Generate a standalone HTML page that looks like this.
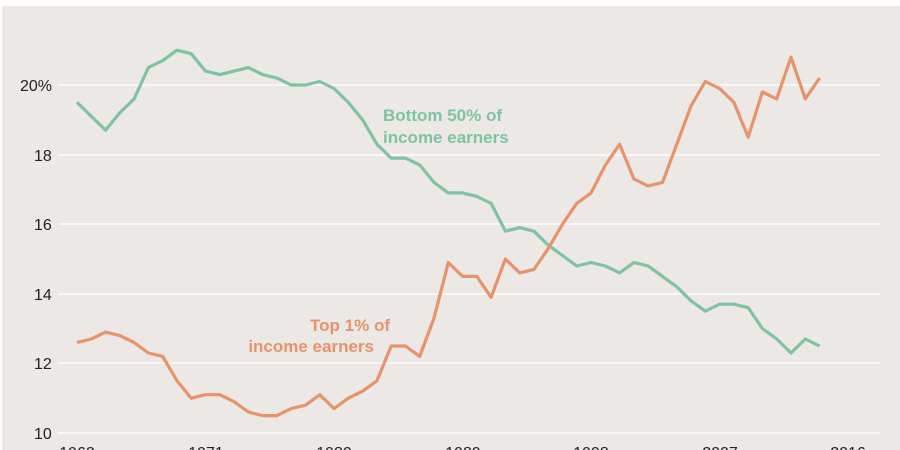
<!DOCTYPE html>
<html><head><meta charset="utf-8"><style>
html,body{margin:0;padding:0;background:#fff}
svg{display:block}
text{font-family:"Liberation Sans",sans-serif}
</style></head><body>
<svg id="s" width="900" height="450" xmlns="http://www.w3.org/2000/svg">
<rect x="2" y="6" width="898" height="444" fill="#ebe8e6"/>
<g stroke="#fff" stroke-width="1.2">
<line x1="58" x2="880" y1="85" y2="85"/><line x1="58" x2="880" y1="155" y2="155"/>
<line x1="58" x2="880" y1="224" y2="224"/><line x1="58" x2="880" y1="294" y2="294"/>
<line x1="58" x2="880" y1="363" y2="363"/><line x1="58" x2="880" y1="433" y2="433"/>
</g>
<g font-size="16" fill="#222">
<text x="20" y="91">20%</text><text x="34" y="161">18</text><text x="34" y="230">16</text>
<text x="34" y="300">14</text><text x="34" y="369">12</text><text x="34" y="439">10</text>
</g>
<g font-size="16" fill="#222" text-anchor="middle">
<text x="77" y="458">1962</text><text x="206" y="458">1971</text><text x="334" y="458">1980</text>
<text x="463" y="458">1989</text><text x="591" y="458">1998</text><text x="720" y="458">2007</text><text x="848" y="458">2016</text>
</g>
<polyline id="g" fill="none" stroke="#7dc4a0" stroke-width="3.2" stroke-linejoin="round"/>
<polyline id="o" fill="none" stroke="#e8936a" stroke-width="3.2" stroke-linejoin="round"/>
<g font-size="17" font-weight="bold" fill="#7dc4a0"><text x="383" y="121">Bottom 50% of</text><text x="383" y="143">income earners</text></g>
<g font-size="17" font-weight="bold" fill="#e8936a" text-anchor="end"><text x="390" y="331">Top 1% of</text><text x="374" y="352">income earners</text></g>
</svg>
<script>
var G=[19.5,19.1,18.7,19.2,19.6,20.5,20.7,21.0,20.9,20.4,20.3,20.4,20.5,20.3,20.2,20.0,20.0,20.1,19.9,19.5,19.0,18.3,17.9,17.9,17.7,17.2,16.9,16.9,16.8,16.6,15.8,15.9,15.8,15.4,15.1,14.8,14.9,14.8,14.6,14.9,14.8,14.5,14.2,13.8,13.5,13.7,13.7,13.6,13.0,12.7,12.3,12.7,12.5];
var O=[12.6,12.7,12.9,12.8,12.6,12.3,12.2,11.5,11.0,11.1,11.1,10.9,10.6,10.5,10.5,10.7,10.8,11.1,10.7,11.0,11.2,11.5,12.5,12.5,12.2,13.3,14.9,14.5,14.5,13.9,15.0,14.6,14.7,15.3,16.0,16.6,16.9,17.7,18.3,17.3,17.1,17.2,18.3,19.4,20.1,19.9,19.5,18.5,19.8,19.6,20.8,19.6,20.2];
function p(a){return a.map(function(v,i){return (77+i*14.28).toFixed(1)+","+(433-(v-10)*34.8).toFixed(1)}).join(" ")}
document.getElementById("g").setAttribute("points",p(G));
document.getElementById("o").setAttribute("points",p(O));
</script>
</body></html>
